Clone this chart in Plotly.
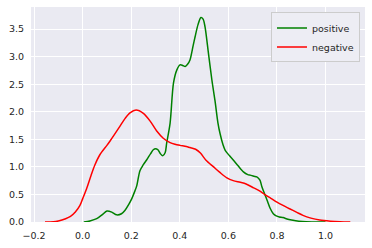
import plotly.graph_objects as go

# Data (KDE curves)
pos_x = [0.005, 0.03, 0.058, 0.08, 0.1, 0.12, 0.14, 0.16, 0.174, 0.19, 0.202, 0.215, 0.223, 0.236, 0.25, 0.264,
         0.28, 0.291, 0.30, 0.31, 0.32, 0.33, 0.34, 0.346, 0.36, 0.374, 0.388, 0.401, 0.412, 0.422, 0.432, 0.442,
         0.455, 0.463, 0.475, 0.487, 0.496, 0.504, 0.518, 0.532, 0.545, 0.557, 0.566, 0.578, 0.587, 0.605, 0.621,
         0.64, 0.662, 0.68, 0.69, 0.705, 0.717, 0.73, 0.738, 0.759, 0.772, 0.785, 0.797, 0.81, 0.825, 0.845,
         0.866, 0.89, 0.92, 0.96, 1.0]
pos_y = [0.0, 0.02, 0.06, 0.13, 0.2, 0.18, 0.13, 0.15, 0.21, 0.32, 0.42, 0.56, 0.66, 0.93, 1.04, 1.13,
         1.24, 1.31, 1.33, 1.31, 1.24, 1.2, 1.26, 1.43, 1.79, 2.52, 2.76, 2.85, 2.84, 2.82, 2.86, 2.94,
         3.2, 3.36, 3.58, 3.71, 3.68, 3.54, 3.06, 2.58, 2.2, 1.8, 1.6, 1.4, 1.3, 1.2, 1.12,
         1.02, 0.91, 0.86, 0.85, 0.83, 0.82, 0.76, 0.64, 0.40, 0.25, 0.15, 0.11, 0.09, 0.08, 0.05,
         0.03, 0.015, 0.005, 0.001, 0.0]

neg_x = [-0.155, -0.12, -0.1, -0.07, -0.05, -0.03, -0.011, 0.0, 0.016, 0.035, 0.05, 0.071, 0.1, 0.113, 0.13,
         0.154, 0.175, 0.195, 0.22, 0.25, 0.278, 0.305, 0.332, 0.36, 0.38, 0.401, 0.427, 0.442, 0.465, 0.485,
         0.508, 0.539, 0.565, 0.594, 0.62, 0.649, 0.673, 0.704, 0.73, 0.752, 0.775, 0.80, 0.825, 0.852,
         0.88, 0.907, 0.94, 0.976, 1.02, 1.06, 1.102]
neg_y = [0.0, 0.005, 0.02, 0.06, 0.1, 0.18, 0.3, 0.42, 0.6, 0.85, 1.03, 1.22, 1.39, 1.47, 1.58,
         1.74, 1.88, 1.98, 2.03, 1.97, 1.83, 1.65, 1.52, 1.44, 1.41, 1.39, 1.37, 1.35, 1.32, 1.25,
         1.12, 1.0, 0.9, 0.8, 0.75, 0.72, 0.69, 0.62, 0.56, 0.49, 0.43, 0.36, 0.3, 0.24,
         0.18, 0.12, 0.07, 0.035, 0.015, 0.005, 0.0]

x_ticks = [-0.2, 0.0, 0.2, 0.4, 0.6, 0.8, 1.0]
y_ticks = [0.0, 0.5, 1.0, 1.5, 2.0, 2.5, 3.0, 3.5]

fig = go.Figure()
fig.add_trace(go.Scatter(x=pos_x, y=pos_y, mode="lines", name="positive",
                         line=dict(color="#008000", width=1.5, shape="spline", smoothing=0.8)))
fig.add_trace(go.Scatter(x=neg_x, y=neg_y, mode="lines", name="negative",
                         line=dict(color="#FF0000", width=1.5, shape="spline", smoothing=0.8)))

font = dict(family="DejaVu Sans", size=9.5, color="#262626")
fig.update_layout(
    width=372, height=248,
    margin=dict(l=31, r=7, t=7, b=24),
    paper_bgcolor="white",
    plot_bgcolor="#EAEAF2",
    font=font,
    showlegend=True,
    legend=dict(x=0.985, y=0.975, xanchor="right", yanchor="top",
                bgcolor="#EDEDF4", bordercolor="#CCCCCC", borderwidth=1,
                font=dict(family="DejaVu Sans", size=9.5, color="#262626"),
                itemwidth=30, tracegroupgap=0),
    xaxis=dict(range=[-0.2125, 1.1625], tickvals=x_ticks, tickformat=".1f",
               showgrid=True, gridcolor="white", gridwidth=1, zeroline=False,
               showline=False, ticks="", ticklabelstandoff=6),
    yaxis=dict(range=[0, 3.9], tickvals=y_ticks, tickformat=".1f",
               showgrid=True, gridcolor="white", gridwidth=1, zeroline=False,
               showline=False, ticks="", ticklabelstandoff=6),
)

fig.write_html("out.html")
